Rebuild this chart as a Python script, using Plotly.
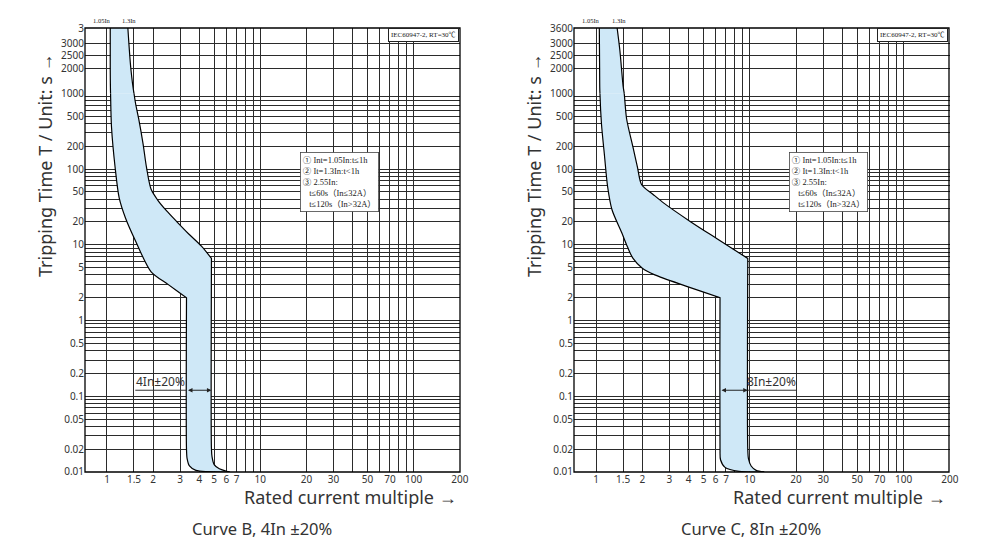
import numpy as np
import plotly.graph_objects as go

# grid lines and tick labels (current multiple, x)
x_grid = [1, 1.5, 2, 3, 4, 5, 6, 7, 8, 9, 10, 20, 30, 40, 50, 60, 70, 80, 90, 100, 200]
x_text = ["1", "1.5", "2", "3", "4", "5", "6", "7", "", "", "10", "20", "30", "", "50", "", "70", "", "", "100", "200"]

# grid lines and tick labels (tripping time, y) - log part up to 1000 s
y_grid = [0.01, 0.02, 0.03, 0.04, 0.05, 0.06, 0.07, 0.08, 0.09,
          0.1, 0.2, 0.3, 0.4, 0.5, 0.6, 0.7, 0.8, 0.9,
          1, 2, 3, 4, 5, 6, 7, 8, 9,
          10, 20, 30, 40, 50, 60, 70, 80, 90,
          100, 200, 300, 400, 500, 600, 700, 800, 900, 1000]
y_labeled = [0.01, 0.02, 0.05, 0.1, 0.2, 0.5, 1, 2, 5, 10, 20, 50, 100, 200, 500, 1000]
# top part of the time axis (1000 s .. 3600 s)
y_top_grid = [2000, 2500, 3000, 3600]
y_top_text_b = ["2000", "2500", "3000", "3"]
y_top_text_c = ["2000", "2500", "3000", "3600"]

# curve B band (lower / upper boundary); repeated points keep corners sharp
b_lo_x = [1.05, 1.05, 1.055, 1.07, 1.13, 1.2, 1.32, 1.53, 1.94, 2.5, 3.3, 3.3, 3.3, 3.33, 3.45, 3.8, 6.3, 6.3]
b_lo_t = [3700, 2000, 1000, 360, 105, 42, 22.6, 11.4, 4.4, 3.0, 2.0, 2.0, 0.02, 0.015, 0.012, 0.0105, 0.01, 0.01]
b_hi_x = [1.365, 1.43, 1.5, 1.535, 1.61, 1.72, 1.81, 1.94, 2.14, 2.45, 2.9, 3.4, 4.13, 4.8,
          4.8, 4.8, 4.84, 5.0, 5.4, 6.3, 6.3]
b_hi_t = [3700, 2000, 1000, 740, 460, 214, 105, 54, 39, 28, 19.5, 14, 9.6, 6.6,
          6.6, 0.02, 0.016, 0.0125, 0.011, 0.01, 0.01]

# curve C band (lower / upper boundary)
c_lo_x = [1.05, 1.055, 1.06, 1.085, 1.135, 1.19, 1.27, 1.47, 1.6, 1.74, 2.0, 2.41, 3.84, 6.4,
          6.4, 6.4, 6.45, 6.9, 8.5, 12.4, 12.4]
c_lo_t = [3700, 2000, 1000, 390, 150, 58, 29, 14.4, 9.4, 6.6, 4.9, 4.0, 2.85, 2.0,
          2.0, 0.02, 0.0145, 0.0115, 0.0102, 0.01, 0.01]
c_hi_x = [1.365, 1.43, 1.5, 1.525, 1.58, 1.74, 1.86, 1.98, 2.34, 2.76, 4.07, 6.12, 9.7,
          9.7, 9.7, 9.8, 10.2, 11.0, 12.4, 12.4]
c_hi_t = [3700, 2690, 1285, 1000, 462, 193, 105, 62, 46.6, 35.5, 20.5, 12, 6.6,
          6.6, 0.02, 0.015, 0.012, 0.0105, 0.01, 0.01]

# tolerance markers: (low, high, underline end, time level)
b_tol = (3.3, 4.8, 1.53, 0.12)
c_tol = (6.4, 9.7, 20, 0.12)

BAND = "rgb(207,232,247)"
GRID = "#2b2b2b"
TXT = "#333333"
SANS = "Noto Sans"
SERIF = "Liberation Serif, Noto Sans CJK SC"

legend_txt = ("① Int=1.05In:t≤1h<br>② It=1.3In:t<1h<br>③ 2.55In:<br>"
              "\u00a0\u00a0\u00a0t≤60s（In≤32A）<br>\u00a0\u00a0\u00a0t≤120s（In>32A）")

# plot frame in paper units
Y0, Y_BREAK, Y1 = 1 - 472 / 552, 1 - 93.3 / 552, 1 - 28 / 552

fig = go.Figure()


def add_panel(xa, ya_lo, ya_hi, lo_x, lo_t, hi_x, hi_t, tol, tol_text, caption, dx):
    for ya in (ya_lo, ya_hi):
        fig.add_trace(go.Scatter(x=lo_x + hi_x[::-1], y=lo_t + hi_t[::-1], mode="lines",
                                 fill="toself", fillcolor=BAND,
                                 line=dict(width=0, shape="spline", smoothing=0.8),
                                 xaxis=xa, yaxis=ya, hoverinfo="skip"))
        for xs, ts in [(lo_x, lo_t), (hi_x, hi_t)]:
            fig.add_trace(go.Scatter(x=xs, y=ts, mode="lines",
                                     line=dict(color="black", width=1.2, shape="spline",
                                               smoothing=0.8),
                                     xaxis=xa, yaxis=ya, hoverinfo="skip"))
    lo, hi, uend, lvl = tol
    left_side = uend < lo
    ux = [uend, lo] if left_side else [hi, uend]
    fig.add_trace(go.Scatter(x=ux, y=[lvl, lvl], mode="lines",
                             line=dict(color="#333", width=1),
                             xaxis=xa, yaxis=ya_lo, hoverinfo="skip"))
    # double arrow across the band
    fig.add_annotation(x=np.log10(hi), y=np.log10(lvl), ax=np.log10(lo), ay=np.log10(lvl),
                       xref=xa, yref=ya_lo, axref=xa, ayref=ya_lo, text="", showarrow=True,
                       arrowhead=2, startarrowhead=2, arrowside="end+start",
                       arrowsize=0.9, arrowwidth=1, arrowcolor="#222")
    fig.add_annotation(x=np.mean(np.log10(ux)), y=np.log10(lvl), xref=xa, yref=ya_lo,
                       text=tol_text, showarrow=False, xanchor="center", yanchor="bottom",
                       yshift=-2, font=dict(family=SANS, size=12, color=TXT))
    # In markers above the plot
    for xv, s, sh in [(1.05, "1.05In", -8), (1.3, "1.3In", 5)]:
        fig.add_annotation(x=np.log10(xv), y=1 - 20 / 552, xref=xa, yref="paper", text=s,
                           showarrow=False, xanchor="center", yanchor="middle", xshift=sh,
                           font=dict(family=SERIF, size=6.5, color="#222"))
    # frame
    fig.add_shape(type="rect", xref="paper", yref="paper", x0=0.085 + dx, x1=0.46 + dx,
                  y0=Y0, y1=Y1, line=dict(color="black", width=1.3), layer="above")
    # standard box
    fig.add_annotation(x=0.459 + dx, y=Y1 - 0.0005, xref="paper", yref="paper",
                       text="IEC60947-2, RT=30℃", showarrow=False, xanchor="right",
                       yanchor="top", bgcolor="white", bordercolor="#222", borderwidth=1,
                       borderpad=2, font=dict(family=SERIF, size=7, color="#222"))
    # note box
    fig.add_annotation(x=0.300 + dx, y=1 - 152 / 552, xref="paper", yref="paper",
                       text=legend_txt, showarrow=False, xanchor="left", yanchor="top",
                       align="left", bgcolor="white", bordercolor="#444", borderwidth=0.8,
                       borderpad=2, font=dict(family=SERIF, size=8.5, color="#222"))
    # titles
    fig.add_annotation(x=0.045 + dx, y=1 - 166 / 552, xref="paper", yref="paper",
                       text="Tripping Time T / Unit: s →", textangle=-90, showarrow=False,
                       xanchor="center", yanchor="middle",
                       font=dict(family=SANS, size=18, color=TXT))
    fig.add_annotation(x=0.350 + dx, y=1 - 497 / 552, xref="paper", yref="paper",
                       text="Rated current multiple →", showarrow=False,
                       xanchor="center", yanchor="middle",
                       font=dict(family=SANS, size=18, color=TXT))
    fig.add_annotation(x=0.262 + dx, y=1 - 528 / 552, xref="paper", yref="paper",
                       text=caption, showarrow=False, xanchor="center", yanchor="middle",
                       font=dict(family=SANS, size=16.5, color=TXT))


add_panel("x", "y", "y3", b_lo_x, b_lo_t, b_hi_x, b_hi_t, b_tol, "4In±20%",
          "Curve B, 4In ±20%", 0)
add_panel("x2", "y2", "y4", c_lo_x, c_lo_t, c_hi_x, c_hi_t, c_tol, "8In±20%",
          "Curve C, 8In ±20%", 0.489)

y_text = ["%g" % v if v in y_labeled else "" for v in y_grid]

axis_common = dict(showline=False, showgrid=True, gridcolor=GRID, gridwidth=1.2, ticks="",
                   zeroline=False, automargin=False, tickmode="array",
                   tickfont=dict(family=SANS, size=10, color=TXT))

x_range = [-0.1434, 2.302]
y_range = [-2.0005, 3.0005]
y_top_range = [1000, 3605]

fig.update_layout(
    width=1000, height=552,
    margin=dict(l=0, r=0, t=0, b=0),
    plot_bgcolor="white", paper_bgcolor="white",
    showlegend=False,
    xaxis=dict(axis_common, type="log", domain=[0.085, 0.46], range=x_range,
               tickvals=x_grid, ticktext=x_text, anchor="y"),
    yaxis=dict(axis_common, type="log", domain=[Y0, Y_BREAK], range=y_range,
               tickvals=y_grid, ticktext=y_text, anchor="x"),
    yaxis3=dict(axis_common, type="linear", domain=[Y_BREAK, Y1], range=y_top_range,
                tickvals=y_top_grid, ticktext=y_top_text_b, anchor="x"),
    xaxis2=dict(axis_common, type="log", domain=[0.574, 0.95], range=x_range,
                tickvals=x_grid, ticktext=x_text, anchor="y2"),
    yaxis2=dict(axis_common, type="log", domain=[Y0, Y_BREAK], range=y_range,
                tickvals=y_grid, ticktext=y_text, anchor="x2"),
    yaxis4=dict(axis_common, type="linear", domain=[Y_BREAK, Y1], range=y_top_range,
                tickvals=y_top_grid, ticktext=y_top_text_c, anchor="x2"),
)

fig.write_html("out.html", config={"displayModeBar": False},
               post_script="document.body.style.margin='0px';")
